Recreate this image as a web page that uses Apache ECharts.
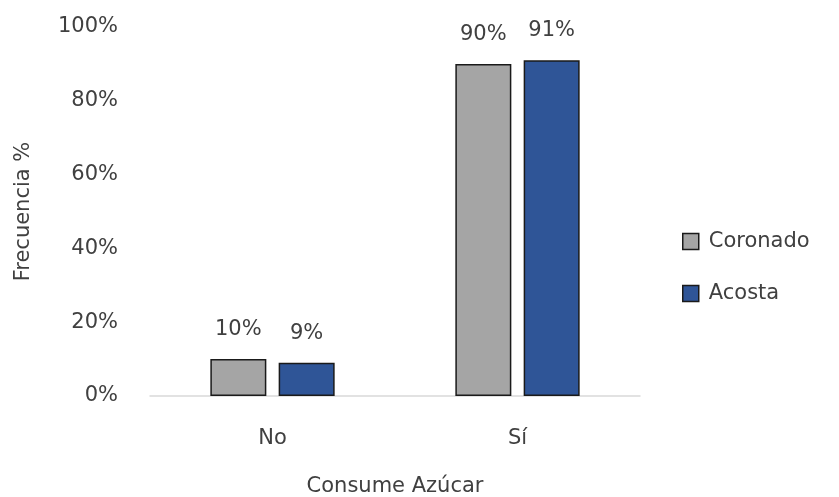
<!DOCTYPE html>
<html>
<head>
<meta charset="utf-8">
<script src="https://cdn.jsdelivr.net/npm/echarts@6/dist/echarts.min.js"></script>
<style>
  html, body { margin: 0; padding: 0; background: #ffffff; }
  #chart { width: 839px; height: 497px; }
</style>
</head>
<body>
<div id="chart"></div>
<script>
// Consumo de azúcar por grupo
const categories = ['No', 'Sí'];
const coronado = [10, 90];
const acosta = [9, 91];
const yTicks = [0, 20, 40, 60, 80, 100];

const FONT = 'DejaVu Sans';
const TEXT = '#404040';
const SIZE = 21;

const chart = echarts.init(document.getElementById('chart'), null, { renderer: 'canvas' });

const labelStyle = {
  show: true,
  position: 'top',
  distance: 19,
  formatter: p => p.value + '%',
  fontFamily: FONT,
  fontSize: SIZE,
  color: TEXT
};

chart.setOption({
  animation: false,
  textStyle: { fontFamily: FONT, color: TEXT },
  grid: { left: 150, right: 199, top: 27, bottom: 101, containLabel: false, outerBoundsMode: 'none' },
  legend: {
    orient: 'vertical',
    left: 682,
    top: 231,
    padding: 0,
    itemWidth: 16,
    itemHeight: 16,
    itemGap: 31,
    icon: 'rect',
    itemStyle: { borderColor: '#1a1a1a', borderWidth: 1.5 },
    textStyle: { fontFamily: FONT, fontSize: SIZE, color: TEXT, padding: [0, 0, 0, 5] },
    data: ['Coronado', 'Acosta']
  },
  xAxis: {
    type: 'category',
    data: categories,
    name: 'Consume Azúcar',
    nameLocation: 'middle',
    nameGap: 80,
    nameTextStyle: { fontFamily: FONT, fontSize: SIZE, color: TEXT },
    axisLine: { lineStyle: { color: '#d9d9d9', width: 1.5 } },
    axisTick: { show: false },
    axisLabel: { fontFamily: FONT, fontSize: SIZE, color: TEXT, margin: 32 }
  },
  yAxis: {
    type: 'value',
    min: yTicks[0],
    max: yTicks[yTicks.length - 1],
    interval: yTicks[1] - yTicks[0],
    name: 'Frecuencia %',
    nameLocation: 'middle',
    nameGap: 116,
    nameTextStyle: { fontFamily: FONT, fontSize: SIZE, color: TEXT },
    axisLine: { show: false },
    axisTick: { show: false },
    splitLine: { show: false },
    axisLabel: {
      fontFamily: FONT, fontSize: SIZE, color: TEXT, margin: 32,
      formatter: v => v + '%'
    }
  },
  series: [
    {
      name: 'Coronado',
      type: 'bar',
      data: coronado,
      barWidth: 56,
      barGap: '22%',
      itemStyle: { color: '#a5a5a5', borderColor: '#1a1a1a', borderWidth: 1.5 },
      label: labelStyle
    },
    {
      name: 'Acosta',
      type: 'bar',
      data: acosta,
      barWidth: 56,
      itemStyle: { color: '#2f5597', borderColor: '#1a1a1a', borderWidth: 1.5 },
      label: labelStyle
    }
  ]
});
</script>
</body>
</html>
